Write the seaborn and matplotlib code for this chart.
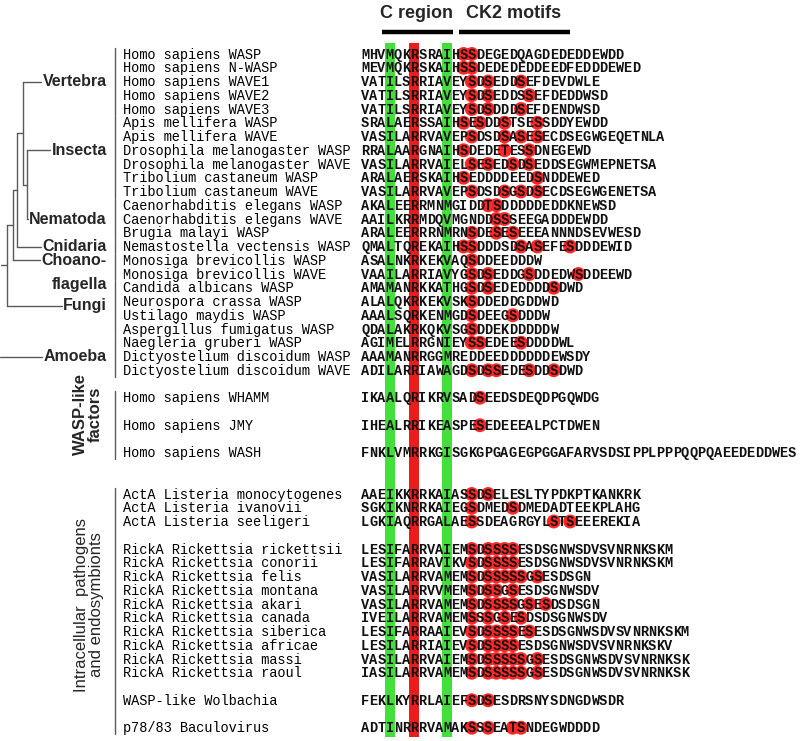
"""
WASP family C region / CK2 motif alignment figure.
Sequence names, aligned sequences and the circled CK2 sites are kept as lists.
"""

import matplotlib
matplotlib.use('Agg')
import matplotlib.pyplot as plt
import seaborn as sns
import pandas as pd

# ---------------------------------------------------------------- data
names = [
    "Homo sapiens WASP", "Homo sapiens N-WASP", "Homo sapiens WAVE1",
    "Homo sapiens WAVE2", "Homo sapiens WAVE3",
    "Apis mellifera WASP", "Apis mellifera WAVE",
    "Drosophila melanogaster WASP", "Drosophila melanogaster WAVE",
    "Tribolium castaneum WASP", "Tribolium castaneum WAVE",
    "Caenorhabditis elegans WASP", "Caenorhabditis elegans WAVE",
    "Brugia malayi WASP", "Nemastostella vectensis WASP",
    "Monosiga brevicollis WASP", "Monosiga brevicollis WAVE",
    "Candida albicans WASP", "Neurospora crassa WASP",
    "Ustilago maydis WASP", "Aspergillus fumigatus WASP",
    "Naegleria gruberi WASP", "Dictyostelium discoidum WASP",
    "Dictyostelium discoidum WAVE",
    "Homo sapiens WHAMM", "Homo sapiens JMY", "Homo sapiens WASH",
    "ActA Listeria monocytogenes", "ActA Listeria ivanovii",
    "ActA Listeria seeligeri",
    "RickA Rickettsia rickettsii", "RickA Rickettsia conorii",
    "RickA Rickettsia felis", "RickA Rickettsia montana",
    "RickA Rickettsia akari", "RickA Rickettsia canada",
    "RickA Rickettsia siberica", "RickA Rickettsia africae",
    "RickA Rickettsia massi", "RickA Rickettsia raoul",
    "WASP-like Wolbachia", "p78/83 Baculovirus",
]

seqs = [
    "MHVMQKRSRAIHSSDEGEDQAGDEDEDDEWDD",
    "MEVMQKRSKAIHSSDEDEDEDDEEDFEDDDEWED",
    "VATILSRRIAVEYSDSEDDSEFDEVDWLE",
    "VATILSRRIAVEYSDSEDDSSEFDEDDWSD",
    "VATILSRRIAVEYSDSDDDSEFDENDWSD",
    "SRALAERSSAIHSESDDSTSESSDDYEWDD",
    "VASILARRVAVEPSDSDSASESECDSEGWGEQETNLA",
    "RRALAARGNAIHSDEDETESSDNEGEWD",
    "VASILARRVAIELSESEDSDSEDDSEGWMEPNETSA",
    "ARALAERSKAIHSEDDDDEEDSNDDEWED",
    "VASILARRVAVEPSDSDSGSDSECDSEGWGENETSA",
    "AKALEERRMNMGIDDTSDDDDDEDDKNEWSD",
    "AAILKRRMDQVMGNDDSSSEEGADDDEWDD",
    "ARALEERRRNMRNSDESESEEEANNNDSEVWESD",
    "QMALTQREKAIHSSDDDSDSASEFESDDDEWID",
    "ASALNKRKEKVAQSDDEEDDDW",
    "VAAILARRIAVYGSDSEDDGSDDEDWSDDEEWD",
    "AMAMANRKKATHGSDSEDEDDDDSDWD",
    "ALALQKRKEKVSKSDDEDDGDDWD",
    "AAALSQRKENMGDSDEEGSDDDW",
    "QDALAKRKQKVSGSDDEKDDDDDW",
    "AGIMELRRGNIEYSSEDEESDDDDWL",
    "AAAMANRRGGMREDDEEDDDDDDEWSDY",
    "ADILARRIAWAGDSDSSEDESDDSDWD",
    "IKAALQRIKRVSADSEEDSDEQDPGQWDG",
    "IHEALRRIKEASPESEDEEEALPCTDWEN",
    "FNKLVMRRKGISGKGPGAGEGPGGAFARVSDSIPPLPPPQQPQAEEDEDDWES",
    "AAEIKKRRKAIASSDSELESLTYPDKPTKANKRK",
    "SGKIKNRRKAIEGSDMEDSDMEDADTEEKPLAHG",
    "LGKIAQRRGALAESSDEAGRGYLSTSEEEREKIA",
    "LESIFARRVAIEMSDSSSSESDSGNWSDVSVNRNKSKM",
    "LESIFARRAVIKVSDSSSSESDSGNWSDVSVNRNKSKM",
    "VASILARRVAMEMSDSSSSSGSESDSGN",
    "VASILARRVVMEMSDSSGSESDSGNWSDV",
    "VASILARRVAMEMSDSSSSGSESDSDSGN",
    "IVEILARRVAMEMSSSGSESDSDSGNWSDV",
    "LESIFARRAAIEVSDSSSSESESDSGNWSDVSVNRNKSKM",
    "LESILARRIAIEVSDSSSSESDSGNWSDVSVNRNKSKV",
    "VASILARRVAIEMSDSSSSSGSESDSGNWSDVSVNRNKSK",
    "IASILARRVAMEMSDSSSSSGSESDSGNWSDVSVNRNKSK",
    "FEKLKYRRLAIEFSDSESDRSNYSDNGDWSDR",
    "ADTINRRRVAMAKSSSEATSNDEGWDDDD",
]

# row slot of every sequence (blank slots separate the blocks)
row_slots = list(range(24)) + [25, 27, 29, 32, 33, 34] + list(range(36, 46)) + [47, 49]

# circled CK2 sites (0-based alignment column)
ck2_sites = [
    [12, 13], [12, 13], [13, 15, 19], [13, 15, 20], [13, 15, 19],
    [12, 14, 17, 21], [13, 17, 19, 21], [12, 17, 20], [13, 15, 18, 20],
    [12, 21], [13, 17, 19, 21], [15, 16], [16, 17], [13, 16, 18],
    [12, 13, 19, 21, 25], [13], [13, 15, 20, 26], [13, 15, 23], [13],
    [13, 18], [13], [13, 14, 19], [], [13, 15, 16, 20, 23],
    [14], [14], [],
    [13, 15], [13, 18], [13, 23, 25],
    [13, 15, 16, 17, 18], [13, 15, 16, 17, 18],
    [13, 15, 16, 17, 18, 19, 21], [13, 15, 16, 18],
    [13, 15, 16, 17, 18, 20, 22], [13, 15, 17, 19],
    [13, 15, 16, 17, 18, 20], [13, 15, 16, 17, 18],
    [13, 15, 16, 17, 18, 19, 21], [13, 15, 16, 17, 18, 19, 21],
    [13, 15], [13, 15, 18, 19],
]

# conserved columns of the C region
green_cols = [3, 10]
red_cols = [6]

# taxon groups: label, first row slot, last row slot
groups = [
    ("Vertebra", 0, 4), ("Insecta", 5, 10), ("Nematoda", 11, 13),
    ("Cnidaria", 14, 14), ("Choano", 15, 16), ("Fungi", 17, 20),
    ("Amoeba", 21, 23), ("WASP-like", 25, 29), ("Intracellular", 32, 49),
]

# ---------------------------------------------------------------- layout
ROW0, ROW_STEP = 54.0, 13.75
SEQ_X0, CW = 361.0, 8.2
NAME_X = 123.0
MONO = 'Liberation Mono'
MONO_SIZE = 9.85
GREEN = '#43df3b'
RED = '#ec1c1c'
CIRCLE = '#ff2626'
LINE = '#5a5a5a'


def row_y(slot):
    return ROW0 + slot * ROW_STEP


def col_x(col):
    return SEQ_X0 + (col + 0.5) * CW


sns.set_theme(style='white')
plt.rcParams['font.family'] = ['Liberation Sans', 'DejaVu Sans']

fig = plt.figure(figsize=(8.0, 7.41), dpi=100)
ax = fig.add_axes([0, 0, 1, 1])

# conserved column bars
bar_top, bar_bottom = row_y(0) - 11, row_y(49) + 9
for c in green_cols:
    ax.bar(col_x(c), bar_bottom - bar_top, bottom=bar_top, width=10,
           color=GREEN, linewidth=0, zorder=1)
for c in red_cols:
    ax.bar(col_x(c), bar_bottom - bar_top, bottom=bar_top, width=10,
           color=RED, linewidth=0, zorder=1)

# CK2 phosphorylation sites
site_df = pd.DataFrame(
    [(col_x(c), row_y(slot)) for slot, cols in zip(row_slots, ck2_sites) for c in cols],
    columns=['x', 'y'])
sns.scatterplot(data=site_df, x='x', y='y', s=100, color=CIRCLE,
                edgecolor='none', linewidth=0, ax=ax, zorder=2, legend=False)
ax.set_xlim(0, 800)
ax.set_ylim(741, 0)
ax.axis('off')

# sequences, one character per alignment column
for slot, seq in zip(row_slots, seqs):
    for i, ch in enumerate(seq):
        ax.text(col_x(i), row_y(slot) + 4.6, ch, ha='center', va='baseline',
                family=MONO, weight='bold', size=MONO_SIZE, color='#111111', zorder=3)

# sequence names
for slot, name in zip(row_slots, names):
    ax.text(NAME_X, row_y(slot) + 4.6, name, ha='left', va='baseline',
            family=MONO, size=MONO_SIZE, color='black')

# header
ax.text(416, 13, "C region", ha='center', va='center', size=13, weight='bold')
ax.text(514, 13, "CK2 motifs", ha='center', va='center', size=13, weight='bold')
ax.plot([382, 453], [32, 32], color='black', lw=3.2, solid_capstyle='butt')
ax.plot([459, 570], [32, 32], color='black', lw=3.2, solid_capstyle='butt')

# group bars between labels and names
for label, r0, r1 in groups:
    ax.plot([115, 115], [row_y(r0) - 6.3, row_y(r1) + 6.3], color=LINE, lw=1)

# tree labels
tree_labels = {
    "Vertebra": row_y(2), "Insecta": row_y(7), "Nematoda": row_y(12),
    "Cnidaria": row_y(14), "Choano-": row_y(15), "Fungi": row_y(18.3),
    "Amoeba": row_y(22),
}
label_art = {}
for lab, y in tree_labels.items():
    label_art[lab] = ax.text(107, y, lab, ha='right', va='center',
                             size=11.5, weight='bold')
ax.text(107, row_y(16.75), "flagella", ha='right', va='center', size=11.5, weight='bold')

ax.text(88, 414, "WASP-like\nfactors", ha='center', va='center', rotation=90,
        size=12, weight='bold', linespacing=1.0)
ax.text(89, 605, "Intracellular  pathogens\nand endosymbionts", ha='center',
        va='center', rotation=90, size=12, linespacing=1.05)

fig.canvas.draw()
renderer = fig.canvas.get_renderer()
left_edge = {lab: t.get_window_extent(renderer).x0 - 1.5 for lab, t in label_art.items()}


def hline(x0, x1, y):
    ax.plot([x0, x1], [y, y], color=LINE, lw=1)


def vline(x, y0, y1):
    ax.plot([x, x], [y0, y1], color=LINE, lw=1)


# cladogram drawn node by node, from the Insecta/Nematoda pair outwards
y_ins, y_nem = tree_labels["Insecta"], tree_labels["Nematoda"]
xa, xb, xc, xd, xe = 27.3, 22.7, 17.0, 12.7, 7.3

vline(xa, y_ins, y_nem)
hline(xa, left_edge["Insecta"], y_ins)
hline(xa, left_edge["Nematoda"], y_nem)
ya = (y_ins + y_nem) / 2

y_ver = tree_labels["Vertebra"]
vline(xb, y_ver, ya)
hline(xb, left_edge["Vertebra"], y_ver)
hline(xb, xa, ya)
yb = (y_ver + ya) / 2

y_cni = tree_labels["Cnidaria"]
vline(xc, yb, y_cni)
hline(xc, xb, yb)
hline(xc, left_edge["Cnidaria"], y_cni)
yc = (yb + y_cni) / 2

y_cho = tree_labels["Choano-"]
vline(xd, yc, y_cho)
hline(xd, xc, yc)
hline(xd, left_edge["Choano-"], y_cho)
yd = (yc + y_cho) / 2

y_fun = tree_labels["Fungi"]
vline(xe, yd, y_fun)
hline(xe, xd, yd)
hline(xe, left_edge["Fungi"], y_fun)
hline(1, xe, (yd + y_fun) / 2)

hline(0, left_edge["Amoeba"], tree_labels["Amoeba"])

fig.savefig('out.png', dpi=100)
plt.close(fig)
